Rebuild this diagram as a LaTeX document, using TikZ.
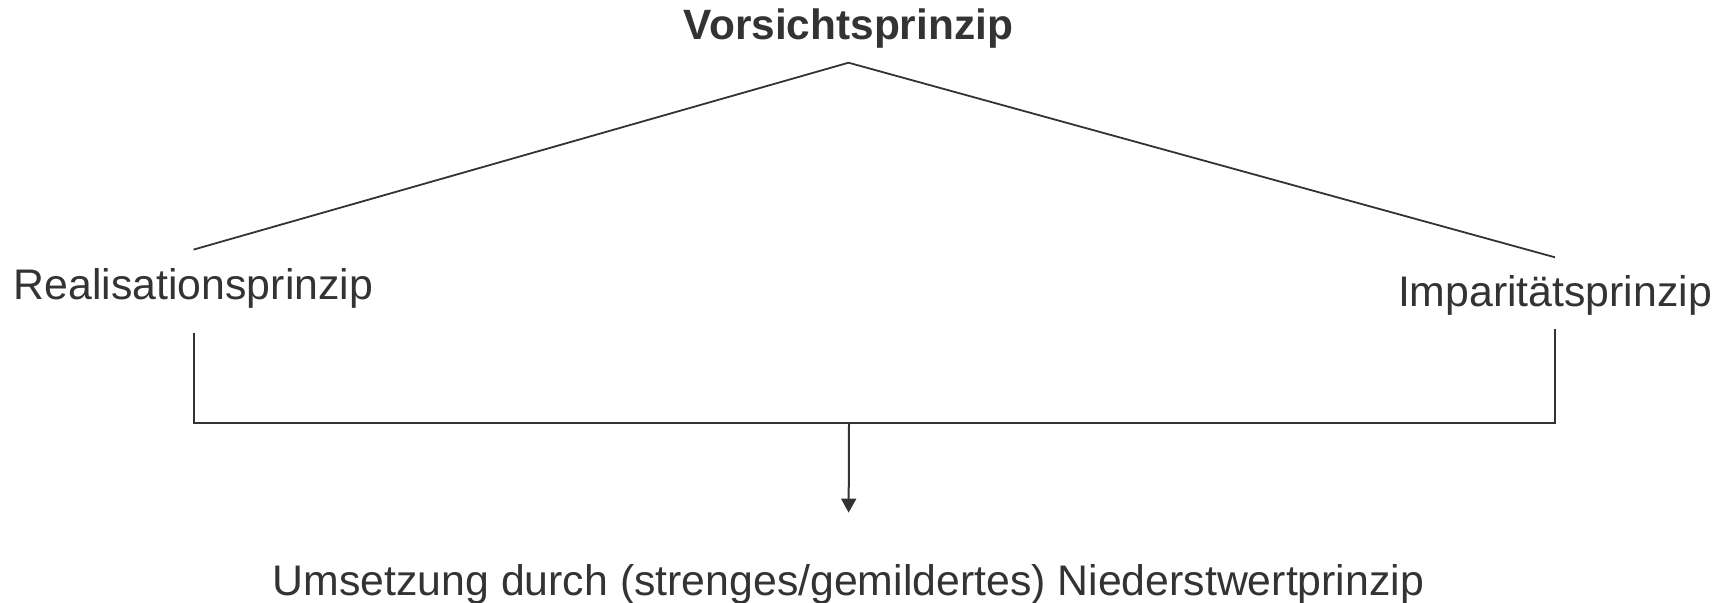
\documentclass[tikz,border=0pt]{standalone}
\usepackage{fontspec}
\setmainfont{Liberation Sans}
\usepackage{xcolor}
\usetikzlibrary{arrows.meta,positioning,calc}
\definecolor{ink}{HTML}{333333}

\begin{document}
\begin{tikzpicture}[
    x=0.5pt, y=-0.5pt,
    principle/.style={text=ink, font=\fontsize{21.4}{25}\selectfont, text height=15pt, text depth=4.5pt, inner xsep=0pt, inner ysep=9.5pt, anchor=base},
    head/.style={principle, font=\fontsize{21.2}{25}\selectfont\bfseries, inner ysep=7pt},
    line/.style={draw=ink, line width=1pt},
    flow/.style={line, -{Triangle[width=7.5pt,length=7pt]}}
]
\useasboundingbox (0,0) rectangle (1712,602);

% Vorsichtsprinzip
\node [head] (vorsicht) at (848.5,39.3) {Vorsichtsprinzip};

% Realisationsprinzip
\node [principle] (real) at (193.5,299) {Realisationsprinzip};

% Imparitaetsprinzip
\node [principle] (impar) at (1555,306.7) {Imparitätsprinzip};

% Niederstwertprinzip
\node [principle] (nwp) at (848.5,595) {Umsetzung durch (strenges/gemildertes) Niederstwertprinzip};

% Bus
\coordinate (bus) at (849,423);

% Connections
\draw [line, line width=0.9pt] (real.north) -- (vorsicht.south) -- (impar.north);
\draw [line] ([yshift=-3pt]real.south) -- (real.south |- bus) -| ([yshift=3pt]impar.south);
\draw [flow, shorten >=16.5pt] (bus) -- (nwp.north);

\end{tikzpicture}
\end{document}
